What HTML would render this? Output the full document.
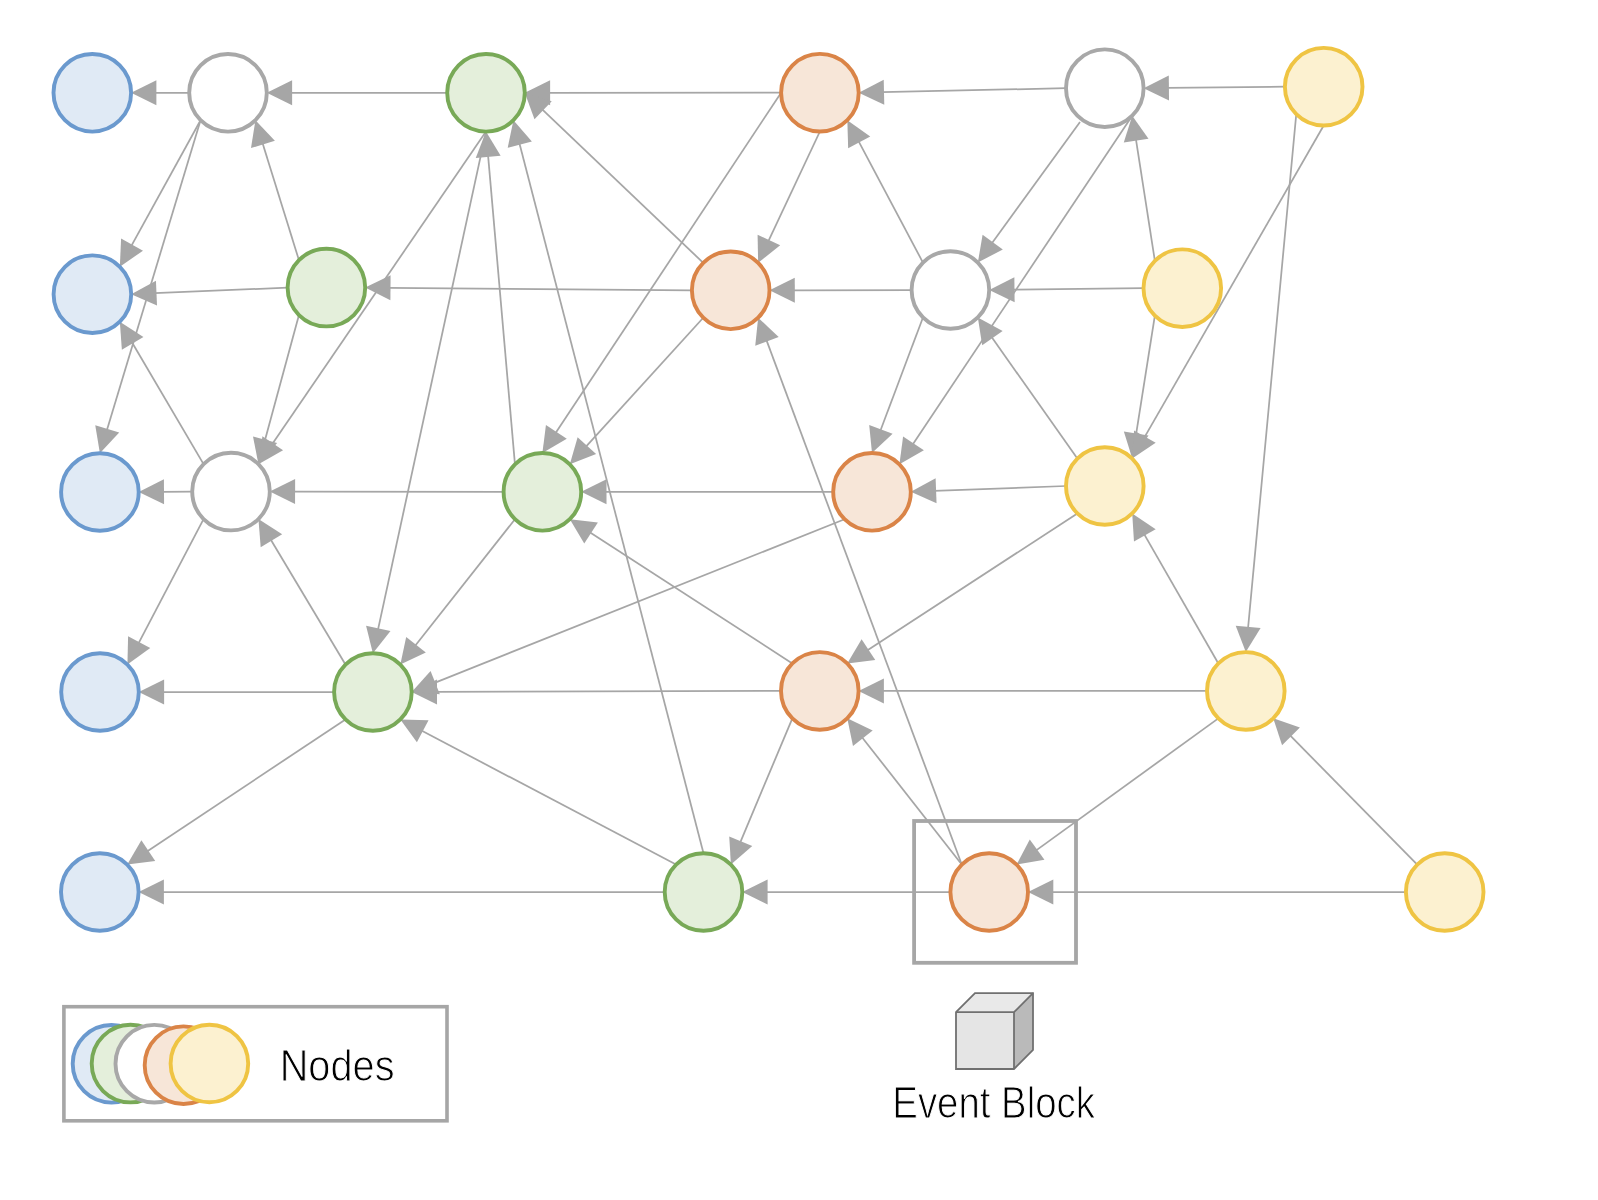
<!DOCTYPE html>
<html><head><meta charset="utf-8"><style>html,body{margin:0;padding:0;background:#fff;}svg{display:block;}text{font-family:"Liberation Sans",sans-serif;}</style></head>
<body>
<svg width="1598" height="1200" viewBox="0 0 1598 1200">
<rect width="1598" height="1200" fill="#fff"/>
<g stroke="#a6a6a6" stroke-width="1.75" fill="none">
<line x1="189.20" y1="92.80" x2="154.40" y2="92.80"/>
<line x1="447.20" y1="92.80" x2="290.10" y2="92.80"/>
<line x1="781.10" y1="92.70" x2="548.10" y2="92.79"/>
<line x1="1066.00" y1="88.20" x2="881.99" y2="92.19"/>
<line x1="1284.90" y1="86.70" x2="1166.90" y2="87.95"/>
<line x1="200.56" y1="120.24" x2="131.08" y2="246.36"/>
<line x1="200.56" y1="120.24" x2="106.64" y2="430.90"/>
<line x1="298.96" y1="260.16" x2="262.36" y2="142.48"/>
<line x1="287.60" y1="287.60" x2="154.48" y2="293.22"/>
<line x1="298.96" y1="315.04" x2="264.55" y2="441.68"/>
<line x1="486.00" y1="131.60" x2="271.59" y2="444.94"/>
<line x1="486.00" y1="131.60" x2="377.84" y2="630.43"/>
<line x1="514.96" y1="464.36" x2="488.02" y2="154.81"/>
<line x1="703.50" y1="853.20" x2="519.28" y2="142.79"/>
<line x1="703.26" y1="262.86" x2="541.67" y2="108.87"/>
<line x1="203.56" y1="464.16" x2="131.64" y2="341.73"/>
<line x1="192.20" y1="491.60" x2="162.00" y2="491.83"/>
<line x1="203.56" y1="519.04" x2="138.24" y2="643.92"/>
<line x1="503.60" y1="491.80" x2="293.10" y2="491.62"/>
<line x1="345.46" y1="664.56" x2="270.39" y2="539.03"/>
<line x1="334.10" y1="692.00" x2="162.10" y2="692.00"/>
<line x1="781.00" y1="690.90" x2="435.00" y2="691.93"/>
<line x1="514.96" y1="519.24" x2="414.77" y2="646.27"/>
<line x1="844.56" y1="519.24" x2="433.34" y2="683.36"/>
<line x1="676.06" y1="864.56" x2="420.95" y2="730.29"/>
<line x1="345.46" y1="719.44" x2="146.64" y2="851.66"/>
<line x1="664.70" y1="892.00" x2="161.90" y2="892.00"/>
<line x1="781.10" y1="92.70" x2="555.27" y2="433.58"/>
<line x1="819.90" y1="131.50" x2="768.05" y2="241.78"/>
<line x1="703.26" y1="317.74" x2="585.52" y2="447.13"/>
<line x1="911.60" y1="290.00" x2="792.80" y2="290.25"/>
<line x1="922.96" y1="262.56" x2="858.26" y2="140.71"/>
<line x1="691.90" y1="290.30" x2="388.50" y2="287.79"/>
<line x1="1080.00" y1="122.00" x2="991.53" y2="243.72"/>
<line x1="1132.24" y1="115.64" x2="912.37" y2="444.99"/>
<line x1="1154.86" y1="260.76" x2="1135.83" y2="138.66"/>
<line x1="1143.50" y1="288.20" x2="1012.50" y2="289.73"/>
<line x1="1154.86" y1="315.64" x2="1135.88" y2="435.55"/>
<line x1="1323.70" y1="125.50" x2="1143.85" y2="438.36"/>
<line x1="1296.26" y1="114.14" x2="1247.98" y2="628.90"/>
<line x1="922.96" y1="317.44" x2="880.20" y2="431.19"/>
<line x1="1077.36" y1="458.56" x2="991.26" y2="336.48"/>
<line x1="1066.00" y1="486.00" x2="934.08" y2="490.93"/>
<line x1="833.20" y1="491.80" x2="604.50" y2="491.80"/>
<line x1="792.36" y1="663.46" x2="589.39" y2="531.91"/>
<line x1="1077.36" y1="513.44" x2="866.75" y2="650.74"/>
<line x1="1218.36" y1="663.46" x2="1143.84" y2="533.64"/>
<line x1="1207.00" y1="690.90" x2="881.90" y2="690.90"/>
<line x1="961.76" y1="864.56" x2="766.27" y2="339.57"/>
<line x1="961.76" y1="864.56" x2="861.60" y2="736.68"/>
<line x1="792.36" y1="718.34" x2="739.96" y2="843.08"/>
<line x1="950.40" y1="892.00" x2="765.60" y2="892.00"/>
<line x1="1218.36" y1="718.34" x2="1035.50" y2="850.89"/>
<line x1="1405.90" y1="892.00" x2="1051.30" y2="892.00"/>
<line x1="1417.26" y1="864.56" x2="1289.59" y2="734.94"/>
</g>
<g fill="#a6a6a6" stroke="none">
<polygon points="131.10,92.80 156.40,80.30 156.40,105.30"/>
<polygon points="266.80,92.80 292.10,80.30 292.10,105.30"/>
<polygon points="524.80,92.80 550.10,80.29 550.10,105.29"/>
<polygon points="858.70,92.70 883.72,79.65 884.27,104.65"/>
<polygon points="1143.60,88.20 1168.77,75.43 1169.03,100.43"/>
<polygon points="119.84,266.76 121.10,238.57 142.99,250.64"/>
<polygon points="99.90,453.20 95.26,425.37 119.19,432.60"/>
<polygon points="255.44,120.24 274.89,140.68 251.01,148.11"/>
<polygon points="131.20,294.20 155.95,280.64 157.00,305.62"/>
<polygon points="258.44,464.16 253.01,436.47 277.13,443.03"/>
<polygon points="258.44,464.16 262.41,436.23 283.04,450.34"/>
<polygon points="372.90,653.20 366.05,625.83 390.48,631.12"/>
<polygon points="486.00,131.60 500.65,155.72 475.74,157.89"/>
<polygon points="513.44,120.24 531.89,141.59 507.69,147.86"/>
<polygon points="524.80,92.80 551.74,101.20 534.49,119.30"/>
<polygon points="119.84,321.64 143.43,337.12 121.87,349.78"/>
<polygon points="138.70,492.00 163.91,479.31 164.09,504.31"/>
<polygon points="127.44,664.56 128.09,636.35 150.24,647.94"/>
<polygon points="269.80,491.60 295.11,479.12 295.09,504.12"/>
<polygon points="258.44,519.04 282.15,534.33 260.69,547.16"/>
<polygon points="138.80,692.00 164.10,679.50 164.10,704.50"/>
<polygon points="411.70,692.00 436.96,679.42 437.04,704.42"/>
<polygon points="400.34,664.56 406.19,636.96 425.82,652.44"/>
<polygon points="411.70,692.00 430.56,671.01 439.83,694.23"/>
<polygon points="400.34,719.44 428.55,720.16 416.90,742.28"/>
<polygon points="127.24,864.56 141.38,840.15 155.22,860.96"/>
<polygon points="138.60,892.00 163.90,879.50 163.90,904.50"/>
<polygon points="542.40,453.00 545.95,425.00 566.79,438.81"/>
<polygon points="758.14,262.86 757.59,234.65 780.21,245.29"/>
<polygon points="569.84,464.36 577.62,437.24 596.11,454.06"/>
<polygon points="769.50,290.30 794.77,277.75 794.83,302.75"/>
<polygon points="847.34,120.14 870.24,136.62 848.16,148.34"/>
<polygon points="365.20,287.60 390.60,275.31 390.40,300.31"/>
<polygon points="977.84,262.56 982.60,234.75 1002.82,249.45"/>
<polygon points="899.44,464.36 903.09,436.38 923.88,450.26"/>
<polygon points="1132.24,115.64 1148.48,138.71 1123.78,142.56"/>
<polygon points="989.20,290.00 1014.35,277.21 1014.64,302.20"/>
<polygon points="1132.24,458.56 1123.85,431.62 1148.54,435.53"/>
<polygon points="1132.24,458.56 1134.01,430.40 1155.68,442.86"/>
<polygon points="1245.80,652.10 1235.72,625.74 1260.61,628.08"/>
<polygon points="872.00,453.00 869.20,424.92 892.60,433.72"/>
<polygon points="977.84,317.44 1002.63,330.91 982.20,345.32"/>
<polygon points="910.80,491.80 935.62,478.36 936.55,503.35"/>
<polygon points="581.20,491.80 606.50,479.30 606.50,504.30"/>
<polygon points="569.84,519.24 597.87,522.51 584.27,543.49"/>
<polygon points="847.24,663.46 861.60,639.18 875.26,660.12"/>
<polygon points="1132.24,513.44 1155.67,529.15 1133.99,541.60"/>
<polygon points="858.60,690.90 883.90,678.40 883.90,703.40"/>
<polygon points="758.14,317.74 778.68,337.08 755.25,345.81"/>
<polygon points="847.24,718.34 872.68,730.55 852.99,745.96"/>
<polygon points="730.94,864.56 729.21,836.40 752.26,846.08"/>
<polygon points="742.30,892.00 767.60,879.50 767.60,904.50"/>
<polygon points="1016.64,864.56 1029.78,839.59 1044.46,859.84"/>
<polygon points="1028.00,892.00 1053.30,879.50 1053.30,904.50"/>
<polygon points="1273.24,718.34 1299.90,727.59 1282.08,745.13"/>
</g>
<rect x="914.1" y="821" width="161.9" height="141.8" fill="none" stroke="#a6a6a6" stroke-width="3.8"/>
<g stroke-width="3.9">
<circle cx="92.3" cy="92.8" r="38.8" fill="#e0eaf5" stroke="#6a99ce"/>
<circle cx="228" cy="92.8" r="38.8" fill="#ffffff" stroke="#a8a8a8"/>
<circle cx="486.0" cy="92.8" r="38.8" fill="#e4efdb" stroke="#78a957"/>
<circle cx="819.9" cy="92.7" r="38.8" fill="#f7e6d8" stroke="#da8447"/>
<circle cx="1104.8" cy="88.2" r="38.8" fill="#ffffff" stroke="#a8a8a8"/>
<circle cx="1323.7" cy="86.7" r="38.8" fill="#fcf1d0" stroke="#efc443"/>
<circle cx="92.4" cy="294.2" r="38.8" fill="#e0eaf5" stroke="#6a99ce"/>
<circle cx="326.4" cy="287.6" r="38.8" fill="#e4efdb" stroke="#78a957"/>
<circle cx="730.7" cy="290.3" r="38.8" fill="#f7e6d8" stroke="#da8447"/>
<circle cx="950.4" cy="290.0" r="38.8" fill="#ffffff" stroke="#a8a8a8"/>
<circle cx="1182.3" cy="288.2" r="38.8" fill="#fcf1d0" stroke="#efc443"/>
<circle cx="99.9" cy="492" r="38.8" fill="#e0eaf5" stroke="#6a99ce"/>
<circle cx="231" cy="491.6" r="38.8" fill="#ffffff" stroke="#a8a8a8"/>
<circle cx="542.4" cy="491.8" r="38.8" fill="#e4efdb" stroke="#78a957"/>
<circle cx="872" cy="491.8" r="38.8" fill="#f7e6d8" stroke="#da8447"/>
<circle cx="1104.8" cy="486" r="38.8" fill="#fcf1d0" stroke="#efc443"/>
<circle cx="100" cy="692.0" r="38.8" fill="#e0eaf5" stroke="#6a99ce"/>
<circle cx="372.9" cy="692.0" r="38.8" fill="#e4efdb" stroke="#78a957"/>
<circle cx="819.8" cy="690.9" r="38.8" fill="#f7e6d8" stroke="#da8447"/>
<circle cx="1245.8" cy="690.9" r="38.8" fill="#fcf1d0" stroke="#efc443"/>
<circle cx="99.8" cy="892.0" r="38.8" fill="#e0eaf5" stroke="#6a99ce"/>
<circle cx="703.5" cy="892.0" r="38.8" fill="#e4efdb" stroke="#78a957"/>
<circle cx="989.2" cy="892.0" r="38.8" fill="#f7e6d8" stroke="#da8447"/>
<circle cx="1444.7" cy="892.0" r="38.8" fill="#fcf1d0" stroke="#efc443"/>
</g>
<rect x="63.9" y="1006.7" width="383.1" height="114.1" fill="#fff" stroke="#a6a6a6" stroke-width="3.6"/>
<g stroke-width="3.9">
<circle cx="111.5" cy="1063.8" r="38.8" fill="#e0eaf5" stroke="#6a99ce"/>
<circle cx="130.5" cy="1063.6" r="38.8" fill="#e4efdb" stroke="#78a957"/>
<circle cx="154.3" cy="1063.7" r="38.8" fill="#ffffff" stroke="#a8a8a8"/>
<circle cx="183.5" cy="1065.2" r="38.8" fill="#f7e6d8" stroke="#da8447"/>
<circle cx="209.4" cy="1063.5" r="38.8" fill="#fcf1d0" stroke="#efc443"/>
</g>
<text x="279.7" y="1081.2" font-family="Liberation Sans, sans-serif" font-size="44" textLength="114.8" lengthAdjust="spacingAndGlyphs" fill="#000" stroke="#fff" stroke-width="1.0" style="will-change:transform">Nodes</text>
<polygon points="956,1012.2 975,993.2 1033,993.2 1014,1012.2" fill="#e9e9e9"/>
<polygon points="1014,1012.2 1033,993.2 1033,1050 1014,1069" fill="#bababa"/>
<rect x="956" y="1012.2" width="58" height="56.8" fill="#e5e5e5"/>
<g stroke="#707070" stroke-width="1.8" fill="none" stroke-linejoin="miter">
<polygon points="956,1012.2 975,993.2 1033,993.2 1033,1050 1014,1069 956,1069"/>
<polyline points="956,1012.2 1014,1012.2 1033,993.2"/>
<line x1="1014" y1="1012.2" x2="1014" y2="1069"/>
</g>
<text x="892.3" y="1118" font-family="Liberation Sans, sans-serif" font-size="44" textLength="202.7" lengthAdjust="spacingAndGlyphs" fill="#000" stroke="#fff" stroke-width="1.0" style="will-change:transform">Event Block</text>
</svg>
</body></html>
